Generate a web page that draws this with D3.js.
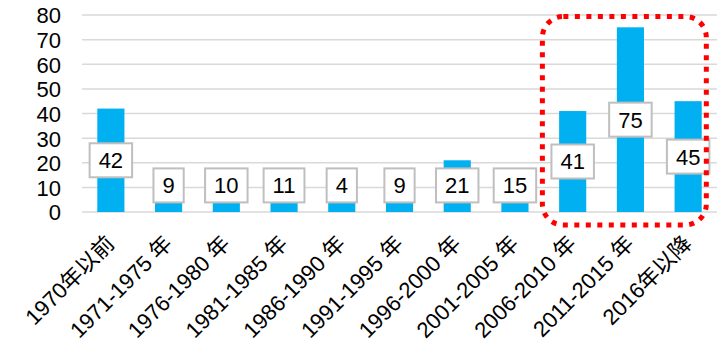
<!DOCTYPE html>
<html lang="ja">
<head>
  <meta charset="UTF-8">
  <title>Bar chart</title>
  <style>
    body {
      margin: 0;
      background: #fff;
      font-family: "Liberation Sans", Arial, "Noto Sans CJK SC", sans-serif;
    }
    .grid line {
      stroke: #d9d9d9;
      stroke-width: 1.5;
    }
    .axis--y text {
      font-size: 22px;
      fill: #000;
    }
    .axis--x text {
      font-size: 22px;
      fill: #000;
    }
    .bar {
      fill: #00b0f0;
    }
    .lbl rect {
      fill: #fff;
      stroke: #bfbfbf;
      stroke-width: 2;
    }
    .lbl text {
      font-size: 22px;
      text-anchor: middle;
      fill: #000;
    }
    .highlight {
      fill: none;
      stroke: #ff0000;
      stroke-width: 5;
      stroke-dasharray: 5,6.5;
    }
  </style>
  <script src="https://d3js.org/d3.v7.min.js"></script>
</head>
<body>
  <div id="chart"></div>
  <script>
/* global d3 */

var categories = ["1970年以前", "1971-1975 年", "1976-1980 年", "1981-1985 年",
  "1986-1990 年", "1991-1995 年", "1996-2000 年", "2001-2005 年",
  "2006-2010 年", "2011-2015 年", "2016年以降"];
var values = [42, 9, 10, 11, 4, 9, 21, 15, 41, 75, 45];
var yTicks = [0, 10, 20, 30, 40, 50, 60, 70, 80];
var highlighted = ["2006-2010 年", "2011-2015 年", "2016年以降"];

var W = 720, H = 355;
var margin = {top: 15, right: 3, bottom: 143, left: 82};
var width = W - margin.left - margin.right,
  height = H - margin.top - margin.bottom;

var svg = d3.select("#chart")
  .append("svg")
  .attr("width", W)
  .attr("height", H);

var g = svg.append("g")
  .attr("transform", "translate(" + margin.left + "," + margin.top + ")");

var x = d3.scaleBand()
  .domain(categories)
  .range([0, width])
  .paddingInner(0.53)
  .paddingOuter(0.265);

var y = d3.scaleLinear()
  .domain([0, 80])
  .range([height, 0]);

// gridlines
g.append("g")
  .attr("class", "grid")
  .selectAll("line")
  .data(yTicks)
  .enter()
  .append("line")
  .attr("x1", 0)
  .attr("x2", width)
  .attr("y1", function (d) { return y(d); })
  .attr("y2", function (d) { return y(d); });

// y axis labels
g.append("g")
  .attr("class", "axis--y")
  .call(d3.axisLeft(y).tickValues(yTicks).tickSize(0).tickPadding(21))
  .call(function (a) { a.select(".domain").remove(); })
  .selectAll("text")
  .attr("dy", "0.36em");

// bars
var data = categories.map(function (c, i) { return {cat: c, v: values[i]}; });

g.selectAll(".bar")
  .data(data)
  .enter()
  .append("rect")
  .attr("class", "bar")
  .attr("x", function (d) { return x(d.cat); })
  .attr("width", x.bandwidth())
  .attr("y", function (d) { return y(d.v); })
  .attr("height", function (d) { return y(0) - y(d.v); });

// x axis labels, rotated
var xAxis = g.append("g")
  .attr("class", "axis--x")
  .attr("transform", "translate(0," + height + ")");

xAxis.selectAll("text")
  .data(categories)
  .enter()
  .append("text")
  .attr("text-anchor", "end")
  .attr("transform", function (d) {
    return "translate(" + (x(d) + x.bandwidth() / 2 + 5) + ",33) rotate(-45)";
  })
  .text(function (d) { return d; });

// data labels (centered on the bar, kept clear of the axis)
var labelFloor = 10.8;
var lbl = g.selectAll(".lbl")
  .data(data)
  .enter()
  .append("g")
  .attr("class", "lbl")
  .attr("transform", function (d) {
    var cy = y(Math.max(d.v / 2, labelFloor));
    return "translate(" + (x(d.cat) + x.bandwidth() / 2) + "," + cy + ")";
  });

lbl.append("text")
  .attr("dy", "0.36em")
  .text(function (d) { return d.v; });

lbl.each(function () {
  var t = d3.select(this).select("text");
  var bb = t.node().getBBox();
  var bw = bb.width + 18, bh = 34;
  d3.select(this).insert("rect", "text")
    .attr("x", -bw / 2)
    .attr("y", -bh / 2)
    .attr("width", bw)
    .attr("height", bh);
});

// red dotted highlight box around the last bars
var first = highlighted[0], last = highlighted[highlighted.length - 1];
var hx0 = x(first) - x.step() * 0.29,
  hx1 = x(last) + x.bandwidth() + x.step() * 0.08;
g.append("rect")
  .attr("class", "highlight")
  .attr("x", hx0)
  .attr("y", y(80) + 1.5)
  .attr("width", hx1 - hx0)
  .attr("height", y(0) - y(80) + 11.5)
  .attr("rx", 21)
  .attr("ry", 21);
  </script>
</body>
</html>
